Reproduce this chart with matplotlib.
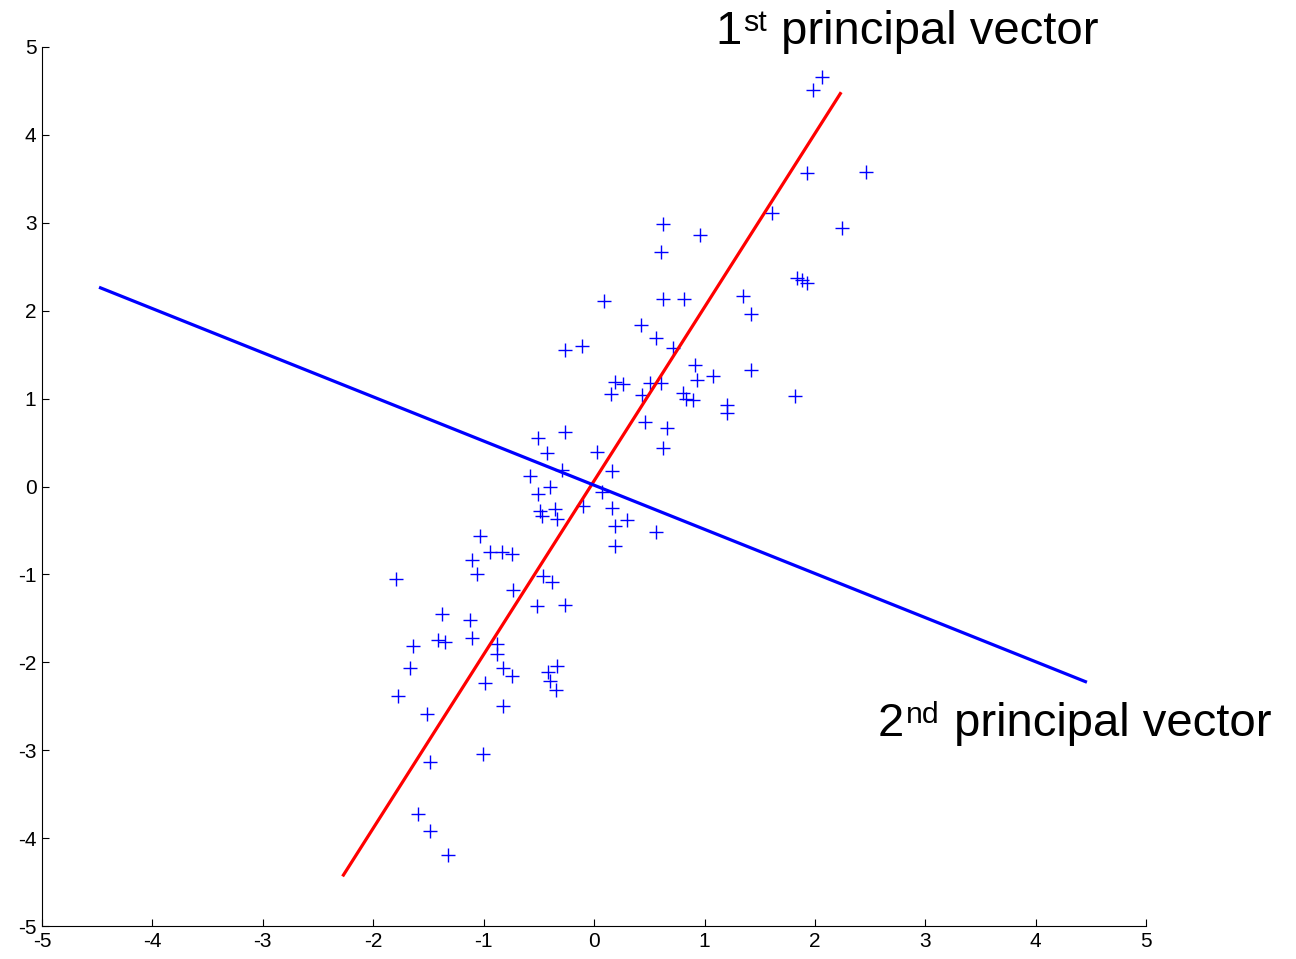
import numpy as np
import matplotlib.pyplot as plt

plt.rcParams['font.family'] = ['Liberation Sans', 'DejaVu Sans']
plt.rcParams['axes.unicode_minus'] = False

# centred 2-D samples
xs = [2.065, 1.984, 1.929, 2.464,
      0.625, 0.960, 0.607, 1.612, 2.246, 1.839, 1.884, 1.929, 0.091, 0.625,
      0.815, 1.350, 1.422, 0.426, 0.562, 0.716, -0.109, -0.263, 0.915, 0.933,
      1.078, 1.422, 0.190, 0.263, 0.154, 0.507, 0.607, 0.435, 0.806, 0.833,
      0.897, 1.205, 1.205, 1.821,
      -0.507, -0.263, -0.426, 0.027, 0.462, 0.661, 0.625, -0.290, -0.580,
      0.163, -0.399, -0.507, 0.072, -0.100, -0.489, -0.471, -0.353, -0.335,
      0.163, 0.190, 0.299, 0.562, 0.190,
      -1.033, -0.942, -0.833, -0.743, -1.105, -1.060, -1.793, -0.462, -0.380,
      -0.734, -0.516, -0.263, -1.377, -1.123, -1.413, -1.350, -1.105, -1.639,
      -0.879, -0.879, -1.667, -0.824, -0.743, -0.335, -0.417, -0.399, -0.344,
      -0.987, -1.775, -0.824, -1.513,
      -1.486, -1.005, -1.594, -1.486, -1.322]
ys = [4.659, 4.511, 3.568, 3.580,
      2.989, 2.864, 2.670, 3.114, 2.943, 2.375, 2.352, 2.318, 2.114, 2.136,
      2.136, 2.170, 1.966, 1.841, 1.693, 1.580, 1.602, 1.557, 1.386, 1.216,
      1.261, 1.330, 1.193, 1.170, 1.057, 1.182, 1.182, 1.045, 1.068, 1.000,
      0.989, 0.932, 0.841, 1.034,
      0.557, 0.625, 0.386, 0.398, 0.739, 0.670, 0.443, 0.193, 0.114,
      0.182, -0.011, -0.091, -0.068, -0.227, -0.284, -0.341, -0.261, -0.375,
      -0.239, -0.455, -0.386, -0.523, -0.682,
      -0.568, -0.750, -0.750, -0.773, -0.841, -1.000, -1.057, -1.023, -1.091,
      -1.182, -1.364, -1.352, -1.455, -1.523, -1.750, -1.773, -1.727, -1.818,
      -1.795, -1.909, -2.068, -2.068, -2.159, -2.045, -2.114, -2.216, -2.318,
      -2.239, -2.386, -2.500, -2.591,
      -3.136, -3.045, -3.727, -3.920, -4.193]

# principal axes drawn through the origin
pc1_x = [-2.27, 2.23]
pc1_y = [-4.42, 4.47]
pc2_x = [-4.47, 4.45]
pc2_y = [2.26, -2.22]


def ordinal_label(ax, x, y, num, suffix, rest, size=34):
    # number, raised suffix, then the rest of the label on the same baseline
    t1 = ax.text(x, y, num, fontsize=size, ha='left', va='baseline',
                 clip_on=False)
    t2 = ax.annotate(suffix, xy=(1, 1), xycoords=t1, xytext=(1, 1),
                     textcoords='offset points', fontsize=size * 0.64,
                     ha='left', va='top', annotation_clip=False)
    ax.annotate(rest, xy=(1, 0), xycoords=(t2, t1), xytext=(1, 0),
                textcoords='offset points', fontsize=size,
                ha='left', va='bottom', annotation_clip=False)


fig = plt.figure(figsize=(12.96, 9.59), dpi=100)
ax = fig.add_axes([0.0324, 0.0344, 0.852, 0.9166])

ax.plot(xs, ys, '+', color='#0000ff', markersize=10, markeredgewidth=1.0)
ax.plot(pc1_x, pc1_y, color='#ff0000', linewidth=2.3)
ax.plot(pc2_x, pc2_y, color='#0000ff', linewidth=2.3)

ax.set_xlim(-5, 5)
ax.set_ylim(-5, 5)
ax.set_xticks(np.arange(-5, 6))
ax.set_yticks(np.arange(-5, 6))
ax.spines['top'].set_visible(False)
ax.spines['right'].set_visible(False)
ax.tick_params(direction='in', length=5, labelsize=15, pad=4)

ordinal_label(ax, 1.10, 5.03, '1', 'st', ' principal vector')
ordinal_label(ax, 2.57, -2.84, '2', 'nd', ' principal vector')

fig.savefig('out.png', dpi=100)
